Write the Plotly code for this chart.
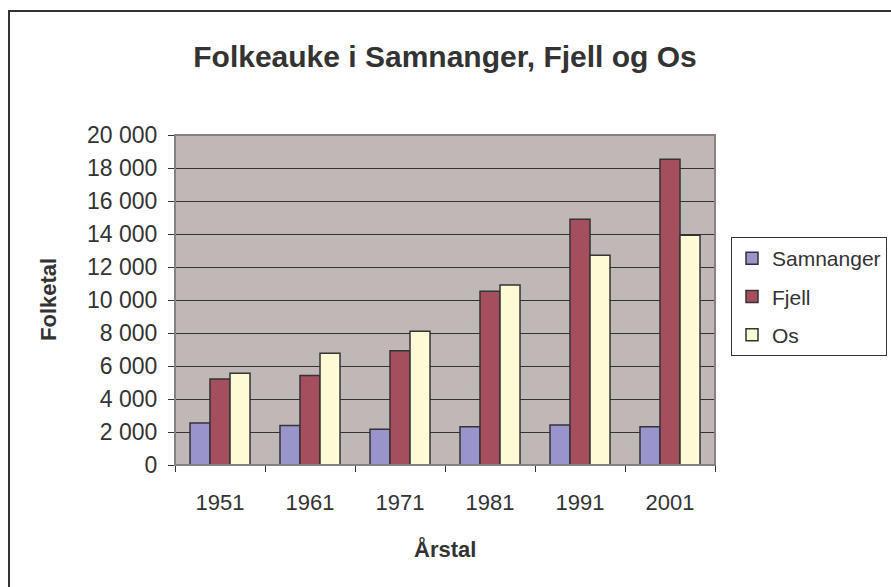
import plotly.graph_objects as go

years = ["1951", "1961", "1971", "1981", "1991", "2001"]
samnanger = [2550, 2400, 2160, 2320, 2420, 2320]
fjell = [5210, 5430, 6930, 10530, 14890, 18530]
os_ = [5560, 6770, 8100, 10910, 12710, 13920]
series_names = ["Samnanger", "Fjell", "Os"]
series_values = [samnanger, fjell, os_]
colors = ["#9994CC", "#A54E5E", "#FFFAD6"]
y_ticks = [0, 2000, 4000, 6000, 8000, 10000, 12000, 14000, 16000, 18000, 20000]

W, H = 891, 587
L, R, T, B = 175, 715, 135, 465
pw, ph = R - L, B - T

def px(x):
    return (x - L) / pw

def py(y):
    return (B - y) / ph

FONT = "Liberation Sans, Arial, sans-serif"
TXT = "#333333"

fig = go.Figure()
for name, vals, c in zip(series_names, series_values, colors):
    fig.add_trace(go.Bar(
        x=years, y=vals, name=name, legendgroup=name,
        marker=dict(color=c, line=dict(color="#333333", width=1.5)),
    ))

fig.update_layout(
    width=W, height=H,
    margin=dict(l=L, r=W - R, t=T, b=H - B, autoexpand=False),
    paper_bgcolor="white",
    plot_bgcolor="#C0B8B6",
    barmode="group", bargap=0.333, bargroupgap=0,
    separators=", ",
    font=dict(family=FONT, size=20, color=TXT),
    title=dict(text="<b>Folkeauke i Samnanger, Fjell og Os</b>",
               x=0.5, xref="paper", xanchor="center",
               y=1 - 56 / H, yanchor="middle",
               font=dict(family=FONT, size=30, color=TXT)),
    showlegend=True,
    legend=dict(x=px(731), y=py(237), xanchor="left", yanchor="top",
                bgcolor="white", bordercolor="#333333", borderwidth=1,
                font=dict(family=FONT, size=21, color=TXT),
                itemwidth=30, tracegroupgap=8,
                entrywidth=160, entrywidthmode="pixels"),
    xaxis=dict(showgrid=False, tickson="boundaries", ticks="outside",
               ticklen=6, tickcolor="#333333", showline=True,
               linecolor="#333333", linewidth=1,
               tickfont=dict(family=FONT, size=22, color=TXT),
               ticklabelstandoff=18),
    yaxis=dict(range=[0, 20000], tickvals=y_ticks, tickformat=",d",
               showgrid=True, gridcolor="#333333", gridwidth=1,
               ticks="outside", ticklen=6, tickcolor="#333333",
               showline=True, linecolor="#333333", linewidth=1,
               zeroline=False,
               tickfont=dict(family=FONT, size=23, color=TXT),
               ticklabelstandoff=6),
    shapes=[
        dict(type="rect", xref="paper", yref="paper", x0=0, x1=1, y0=0, y1=1,
             line=dict(color="#8A8080", width=2), layer="above"),
        dict(type="rect", xref="paper", yref="paper",
             x0=px(9), x1=px(900), y0=py(600), y1=py(11),
             line=dict(color="#333333", width=2)),
    ],
    annotations=[
        dict(text="<b>Folketal</b>", xref="paper", yref="paper",
             x=px(48), y=py(300), xanchor="center", yanchor="middle",
             textangle=-90, showarrow=False,
             font=dict(family=FONT, size=22, color=TXT)),
        dict(text="<b>Årstal</b>", xref="paper", yref="paper",
             x=0.5, y=py(549), xanchor="center", yanchor="middle",
             showarrow=False,
             font=dict(family=FONT, size=22, color=TXT)),
    ],
)

fig.write_html("out.html", config={"displayModeBar": False},
               post_script="document.body.style.margin='0px';")
